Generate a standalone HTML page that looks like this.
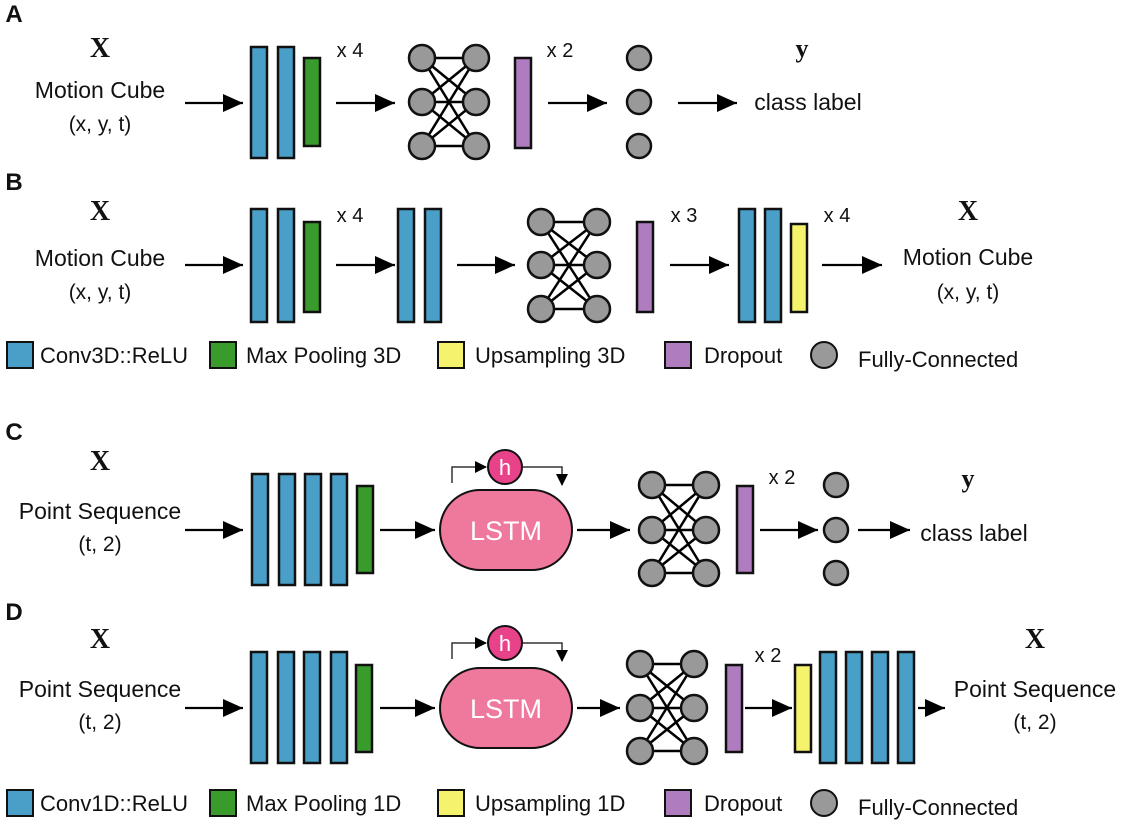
<!DOCTYPE html>
<html><head><meta charset="utf-8"><style>
html,body{margin:0;padding:0;background:#fff}
svg{display:block;font-family:"Liberation Sans",sans-serif}
</style></head><body>
<svg id="s" width="1123" height="827" viewBox="0 0 1123 827">
<defs><marker id="ah" markerWidth="12" markerHeight="12" refX="11" refY="6" orient="auto" markerUnits="userSpaceOnUse"><path d="M0,0 L12,6 L0,12 z" fill="#000"/></marker>
<marker id="ah2" markerWidth="22" markerHeight="20" refX="20" refY="9" orient="auto" markerUnits="userSpaceOnUse"><path d="M0,0 L20,9 L0,18 z" fill="#000"/></marker></defs>
</svg>
<script>
const NS='http://www.w3.org/2000/svg';const s=document.getElementById('s');
const C={b:'#4a9fc9',g:'#3a9b2d',y:'#f5f36b',p:'#b07cc0',n:'#999999'};
function mk(t,a,name){const e=document.createElementNS(NS,t);for(const k in a)e.setAttribute(k,a[k]);


s.appendChild(e);return e;}
function bar(x,y1,y2,c,name){mk('rect',{x:x,y:y1,width:16,height:y2-y1,fill:C[c],stroke:'#111','stroke-width':2.5},name);}
function arrow(x1,x2,y,name){mk('line',{x1:x1,y1:y,x2:x2,y2:y,stroke:'#000','stroke-width':2.2,'marker-end':'url(#ah2)'},name);}
function txt(x,y,t,size,name,opt){const e=mk('text',Object.assign({x:x,y:y,'font-size':size,'text-anchor':'middle',fill:'#111'},opt||{}),name);e.textContent=t;return e;}
function net(x1,x2,ys,name){for(const a of ys)for(const b of ys)mk('line',{x1:x1,y1:a,x2:x2,y2:b,stroke:'#000','stroke-width':2.5},name+'-edge');
for(const x of [x1,x2])for(const y of ys)mk('circle',{cx:x,cy:y,r:13,fill:C.n,stroke:'#111','stroke-width':2.5},name+'-node');}
function circ(x,y,name){mk('circle',{cx:x,cy:y,r:12,fill:C.n,stroke:'#111','stroke-width':2.5},name);}
function lstm(y1,y2,hy,name){
mk('rect',{x:440,y:y1,width:132,height:y2-y1,rx:40,fill:'#ef789d',stroke:'#111','stroke-width':2},name+'-box');
txt(506,(y1+y2)/2+10,'LSTM',27,name+'-label',{fill:'#fff'});
mk('polyline',{points:`452,${hy+16} 452,${hy} 486,${hy}`,fill:'none',stroke:'#333','stroke-width':1.5,'marker-end':'url(#ah)'},name+'-loop-in');
mk('polyline',{points:`523,${hy} 562,${hy} 562,${hy+18}`,fill:'none',stroke:'#333','stroke-width':1.5,'marker-end':'url(#ah)'},name+'-loop-out');
mk('circle',{cx:505,cy:hy,r:17,fill:'#e8428a',stroke:'#111','stroke-width':2},name+'-hidden');
txt(505,hy+8,'h',22,name+'-hidden-label',{fill:'#fff'});}
function bigX(x,y,name){txt(x,y,'X',28,name,{'font-family':'Liberation Serif,serif','font-weight':'bold'});}
function letter(y,t){txt(14,y,t,24,'panel-'+t,{'font-weight':'bold'});}
// A
letter(22,'A');bigX(100,57,'a-input-x');txt(100,98,'Motion Cube',23,'a-input-label');txt(100,131,'(x, y, t)',21,'a-input-shape');
arrow(185,243,103,'a-arrow');bar(251,47,158,'b','a-conv');bar(278,47,158,'b','a-conv');bar(304,58,146,'g','a-pool');
txt(350,57,'x 4',20,'a-repeat');arrow(336,395,103,'a-arrow');net(422,476,[58,102,146],'a-net');
bar(515,58,148,'p','a-dropout');txt(560,57,'x 2',20,'a-repeat');arrow(548,607,103,'a-arrow');
for(const y of [58,102,146])circ(639,y,'a-output-node');arrow(678,737,103,'a-arrow');
txt(802,57,'y',26,'a-output-y',{'font-family':'Liberation Serif,serif','font-weight':'bold'});txt(808,110,'class label',23,'a-output-label');
// B
letter(190,'B');bigX(100,220,'b-input-x');txt(100,266,'Motion Cube',23,'b-input-label');txt(100,299,'(x, y, t)',21,'b-input-shape');
arrow(185,243,265,'b-arrow');bar(251,209,322,'b','b-conv');bar(278,209,322,'b','b-conv');bar(304,222,312,'g','b-pool');
txt(350,222,'x 4',20,'b-repeat');arrow(336,395,265,'b-arrow');bar(398,209,322,'b','b-conv');bar(425,209,322,'b','b-conv');
arrow(457,515,265,'b-arrow');net(541,597,[222,265,309],'b-net');bar(637,222,312,'p','b-dropout');
txt(684,222,'x 3',20,'b-repeat');arrow(670,729,265,'b-arrow');bar(739,209,322,'b','b-conv');bar(765,209,322,'b','b-conv');bar(791,224,312,'y','b-upsample');
txt(837,222,'x 4',20,'b-repeat');arrow(822,882,265,'b-arrow');bigX(968,220,'b-output-x');txt(968,265,'Motion Cube',23,'b-output-label');txt(968,299,'(x, y, t)',21,'b-output-shape');
function legend(y,a,b,c){
mk('rect',{x:7,y:y-13,width:26,height:26,fill:C.b,stroke:'#111','stroke-width':2},'legend-conv-swatch');txt(40,y+8,a,22,'legend-conv',{'text-anchor':'start'});
mk('rect',{x:210,y:y-13,width:26,height:26,fill:C.g,stroke:'#111','stroke-width':2},'legend-pool-swatch');txt(246,y+8,b,22,'legend-pool',{'text-anchor':'start'});
mk('rect',{x:438,y:y-13,width:26,height:26,fill:C.y,stroke:'#111','stroke-width':2},'legend-upsample-swatch');txt(475,y+8,c,22,'legend-upsample',{'text-anchor':'start'});
mk('rect',{x:665,y:y-13,width:26,height:26,fill:C.p,stroke:'#111','stroke-width':2},'legend-dropout-swatch');txt(704,y+8,'Dropout',22,'legend-dropout',{'text-anchor':'start'});
mk('circle',{cx:824,cy:y,r:13,fill:C.n,stroke:'#111','stroke-width':2},'legend-fc-swatch');txt(858,y+12,'Fully-Connected',22,'legend-fc',{'text-anchor':'start'});}
legend(355,'Conv3D::ReLU','Max Pooling 3D','Upsampling 3D');
// C
letter(440,'C');bigX(100,470,'c-input-x');txt(100,519,'Point Sequence',23,'c-input-label');txt(100,551,'(t, 2)',21,'c-input-shape');
arrow(185,243,530,'c-arrow');for(const x of [252,279,305,331])bar(x,474,585,'b','c-conv');bar(357,486,573,'g','c-pool');
arrow(380,435,530,'c-arrow');lstm(490,570,467,'c-lstm');arrow(577,630,530,'c-arrow');net(652,706,[485,530,573],'c-net');
bar(737,486,573,'p','c-dropout');txt(782,484,'x 2',20,'c-repeat');arrow(760,818,530,'c-arrow');
for(const y of [485,530,573])circ(836,y,'c-output-node');arrow(858,910,530,'c-arrow');
txt(968,487,'y',26,'c-output-y',{'font-family':'Liberation Serif,serif','font-weight':'bold'});txt(974,541,'class label',23,'c-output-label');
// D
letter(620,'D');bigX(100,648,'d-input-x');txt(100,697,'Point Sequence',23,'d-input-label');txt(100,729,'(t, 2)',21,'d-input-shape');
arrow(185,243,708,'d-arrow');for(const x of [251,278,304,331])bar(x,652,763,'b','d-conv');bar(356,665,752,'g','d-pool');
arrow(380,435,708,'d-arrow');lstm(668,748,643,'d-lstm');arrow(577,620,708,'d-arrow');net(640,694,[664,708,751],'d-net');
bar(726,665,752,'p','d-dropout');txt(768,662,'x 2',20,'d-repeat');arrow(745,792,708,'d-arrow');bar(795,665,752,'y','d-upsample');
for(const x of [820,846,872,898])bar(x,652,763,'b','d-conv');arrow(918,945,708,'d-arrow');
bigX(1035,648,'d-output-x');txt(1035,697,'Point Sequence',23,'d-output-label');txt(1035,729,'(t, 2)',21,'d-output-shape');
legend(803,'Conv1D::ReLU','Max Pooling 1D','Upsampling 1D');
</script>
</body></html>
